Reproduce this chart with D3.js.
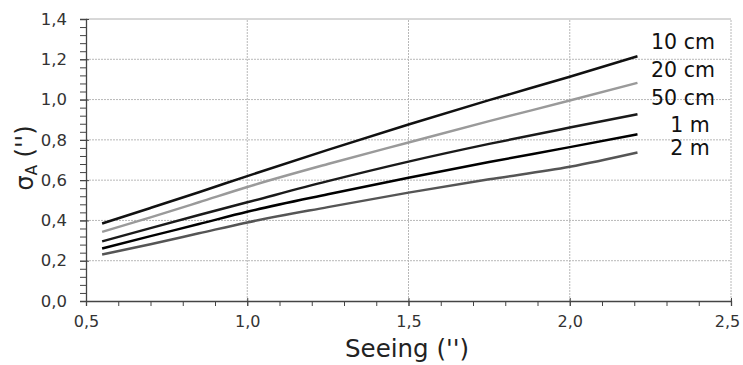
<!DOCTYPE html>
<html><head><meta charset="utf-8">
<script src="https://cdn.jsdelivr.net/npm/d3@7"></script>
<style>body{margin:0;background:#fff}svg{display:block}</style>
</head><body>
<svg id="c" width="743" height="365"></svg>
<script>
const seeing = [0.55, 0.7, 0.85, 1.0, 1.25, 1.5, 1.75, 2.0, 2.21];
const s10cm = [0.385, 0.462, 0.54, 0.62, 0.75, 0.876, 0.997, 1.113, 1.215];
const s20cm = [0.343, 0.415, 0.49, 0.566, 0.68, 0.787, 0.893, 0.995, 1.083];
const s50cm = [0.296, 0.362, 0.427, 0.49, 0.595, 0.692, 0.78, 0.861, 0.927];
const s1m   = [0.261, 0.322, 0.382, 0.443, 0.53, 0.612, 0.69, 0.764, 0.828];
const s2m   = [0.231, 0.282, 0.336, 0.39, 0.466, 0.538, 0.604, 0.666, 0.737];
const seriesNames = ["10 cm", "20 cm", "50 cm", "1 m", "2 m"];
const xTicks = [0.5, 1.0, 1.5, 2.0, 2.5];
const yTicks = [0.0, 0.2, 0.4, 0.6, 0.8, 1.0, 1.2, 1.4];

const series = [
  {name: seriesNames[0], vals: s10cm, color: "#111", lx: 683, ly: 42},
  {name: seriesNames[1], vals: s20cm, color: "#9a9a9a", lx: 683, ly: 70},
  {name: seriesNames[2], vals: s50cm, color: "#1a1a1a", lx: 683, ly: 98},
  {name: seriesNames[3], vals: s1m,   color: "#000", lx: 690, ly: 125},
  {name: seriesNames[4], vals: s2m,   color: "#555", lx: 690, ly: 148}
];

const svg = d3.select("#c");
const x = d3.scaleLinear().domain([0.5, 2.5]).range([86, 731]);
const y = d3.scaleLinear().domain([0, 1.4]).range([301, 19]);
const fmt = d => d.toFixed(1).replace(".", ",");

// gridlines
const g = svg.append("g");
g.selectAll("line.hy").data(yTicks.filter(d => d > 0)).join("line")
  .attr("x1", x(0.5)).attr("x2", x(2.5))
  .attr("y1", d => y(d)).attr("y2", d => y(d))
  .attr("stroke", d => d === 1.4 ? "#b0b0b0" : "#b8b8b8")
  .attr("stroke-width", 1)
  .attr("stroke-dasharray", d => d === 1.4 ? null : "2,1");
g.selectAll("line.vx").data(xTicks.filter(d => d > 0.5)).join("line")
  .attr("x1", d => x(d)).attr("x2", d => x(d))
  .attr("y1", y(0)).attr("y2", y(1.4))
  .attr("stroke", "#b8b8b8").attr("stroke-width", 1)
  .attr("stroke-dasharray", "2,1");

// axes
const xAxis = d3.axisBottom(x).tickValues(d3.range(0.5, 2.5001, 0.1)).tickSize(5)
  .tickFormat(() => "");
svg.append("g").attr("transform", `translate(0,${y(0)})`).call(xAxis)
  .call(a => a.select(".domain").attr("stroke", "#444").attr("stroke-width", 1.3))
  .call(a => a.selectAll(".tick line").attr("stroke", "#444"));
const xMajor = d3.axisBottom(x).tickValues(xTicks).tickSize(5).tickPadding(10).tickFormat(fmt);
svg.append("g").attr("transform", `translate(0,${y(0)})`).call(xMajor)
  .call(a => a.select(".domain").remove())
  .call(a => a.selectAll(".tick line").attr("stroke", "#444").attr("y1", -3))
  .call(a => a.selectAll("text").attr("font-family", "DejaVu Sans").attr("font-size", 16).attr("fill", "#333")
    .attr("dx", d => d === 2.5 ? -4 : 0));

const yAxis = d3.axisLeft(y).tickValues(d3.range(0, 1.4001, 0.04)).tickSize(6).tickFormat(() => "");
svg.append("g").attr("transform", `translate(${x(0.5)},0)`).call(yAxis)
  .call(a => a.select(".domain").attr("stroke", "#444").attr("stroke-width", 1.3))
  .call(a => a.selectAll(".tick line").attr("stroke", "#444"));
const yMajor = d3.axisLeft(y).tickValues(yTicks).tickSize(6).tickPadding(13).tickFormat(fmt);
svg.append("g").attr("transform", `translate(${x(0.5)},0)`).call(yMajor)
  .call(a => a.select(".domain").remove())
  .call(a => a.selectAll(".tick line").attr("stroke", "#444").attr("x2", 3).attr("x1", -6))
  .call(a => a.selectAll("text").attr("font-family", "DejaVu Sans").attr("font-size", 16.5).attr("fill", "#333"));

// lines
const line = d3.line().x((d, i) => x(seeing[i])).y(d => y(d)).curve(d3.curveMonotoneX);
svg.selectAll("path.s").data(series).join("path")
  .attr("class", "s")
  .attr("d", d => line(d.vals))
  .attr("fill", "none")
  .attr("stroke", d => d.color)
  .attr("stroke-width", 2.5)
  .attr("stroke-linejoin", "round");

// labels
svg.selectAll("text.lbl").data(series).join("text")
  .attr("class", "lbl")
  .attr("x", d => d.lx).attr("y", d => d.ly)
  .attr("text-anchor", "middle").attr("dominant-baseline", "central")
  .attr("font-family", "DejaVu Sans").attr("font-size", 20.5).attr("fill", "#111")
  .text(d => d.name);

// axis titles
svg.append("text").attr("x", 407).attr("y", 357).attr("text-anchor", "middle")
  .attr("font-family", "DejaVu Sans").attr("font-size", 24.5).attr("fill", "#222")
  .text("Seeing ('')");
const yt = svg.append("text").attr("transform", "translate(33,158) rotate(-90)")
  .attr("text-anchor", "middle").attr("font-family", "DejaVu Sans").attr("font-size", 24).attr("fill", "#222");
yt.append("tspan").text("σ");
yt.append("tspan").attr("font-size", 15).attr("dy", 4).text("A");
yt.append("tspan").attr("dy", -4).text(" ('')");
</script>
</body></html>
